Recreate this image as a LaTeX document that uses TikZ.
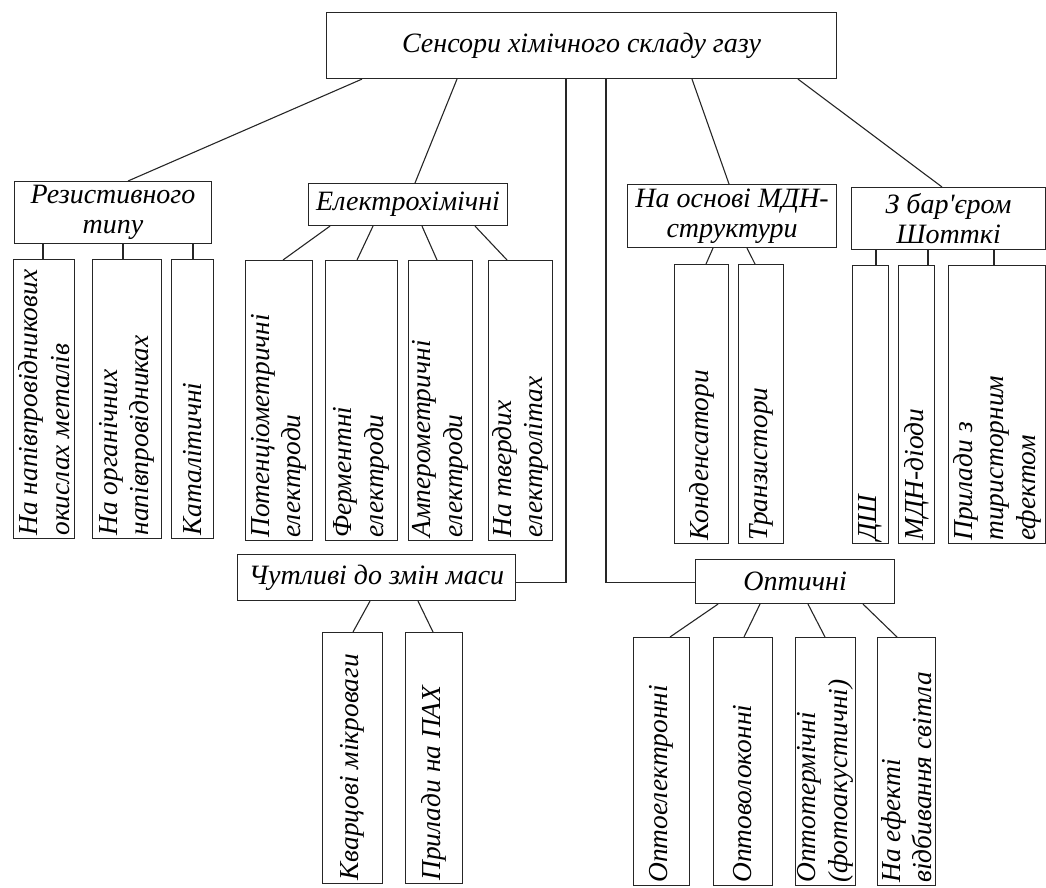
\documentclass[tikz,border=0pt]{standalone}
\usepackage{fontspec}
\setmainfont{Liberation Serif}
\usetikzlibrary{calc}
\newcommand{\bx}[5]{\node[box, minimum width={(#4-#2)*1pt}, minimum height={(#5-#3)*1pt}] (#1) at (#2,#3) {};}
\newcommand{\vt}[2]{\node[vtext] at ($(#1.south)+(0,-3)$) {#2};}
\begin{document}
\begin{tikzpicture}[x=1pt,y=-1pt, line width=1.1pt, draw=black!85,
  box/.style={draw, inner sep=0pt, anchor=north west},
  vtext/.style={rotate=90, anchor=west, align=left, inner sep=0pt, font=\fontsize{27.4}{31.5}\selectfont\itshape},
  gtext/.style={align=center, inner sep=0pt, font=\fontsize{28}{30}\selectfont\itshape},
  conn/.style={draw=black!85, line width=1.1pt}]
\useasboundingbox (0,0) rectangle (1046,888);
% group boxes
\bx{top}{326}{12}{836}{78}
\bx{res}{14}{181}{211}{243}
\bx{el}{308}{183}{507}{225}
\bx{mdn}{627}{184}{836}{247}
\bx{sch}{851}{187}{1045}{249}
\bx{mass}{237}{554}{515}{600}
\bx{opt}{695}{559}{894}{603}
\node[gtext] at (top.center) {Сенсори хімічного складу газу};
\node[gtext] at (res.center) {Резистивного\\типу};
\node[gtext] at (el.center) {Електрохімічні};
\node[gtext] at (mdn.center) {На основі МДН-\\структури};
\node[gtext] at (sch.center) {З бар\textquotesingle єром\\Шотткі};
\node[gtext] at (mass.center) {Чутливі до змін маси};
\node[gtext] at (opt.center) {Оптичні};
% children boxes
\bx{r1}{13}{259}{74}{538}
\bx{r2}{92}{259}{161}{538}
\bx{r3}{171}{259}{213}{538}
\bx{e1}{245}{260}{312}{540}
\bx{e2}{325}{260}{397}{540}
\bx{e3}{408}{260}{472}{540}
\bx{e4}{488}{260}{552}{540}
\bx{m1}{674}{264}{728}{543}
\bx{m2}{738}{264}{783}{543}
\bx{s1}{852}{265}{888}{543}
\bx{s2}{898}{265}{934}{543}
\bx{s3}{948}{265}{1045}{543}
\bx{k1}{322}{632}{382}{883}
\bx{k2}{405}{632}{462}{883}
\bx{o1}{633}{637}{689}{885}
\bx{o2}{713}{637}{772}{885}
\bx{o3}{795}{637}{855}{885}
\bx{o4}{877}{637}{935}{885}
% children texts
\vt{r1}{На напівпровідникових\\окислах металів}
\vt{r2}{На органічних\\напівпровідниках}
\vt{r3}{Каталітичні}
\vt{e1}{Потенціометричні\\електроди}
\vt{e2}{Ферментні\\електроди}
\vt{e3}{Амперометричні\\електроди}
\vt{e4}{На твердих\\електролітах}
\vt{m1}{Конденсатори}
\vt{m2}{Транзистори}
\vt{s1}{ДШ}
\vt{s2}{МДН-діоди}
\vt{s3}{Прилади з\\тиристорним\\ефектом}
\vt{k1}{Кварцові мікроваги}
\vt{k2}{Прилади на ПАХ}
\vt{o1}{Оптоелектронні}
\vt{o2}{Оптоволоконні}
\vt{o3}{Оптотермічні\\(фотоакустичні)}
\vt{o4}{На ефекті\\відбивання світла}
% connectors from top
\draw[conn] ([xshift=36pt]top.south west) -- ([xshift=114pt]res.north west);
\draw[conn] ([xshift=131pt]top.south west) -- ([xshift=107pt]el.north west);
\draw[conn] ([xshift=240pt]top.south west) |- ([yshift=-5pt]mass.east);
\draw[conn] ([xshift=280pt]top.south west) |- ([yshift=-1pt]opt.west);
\draw[conn] ([xshift=366pt]top.south west) -- ([xshift=102pt]mdn.north west);
\draw[conn] ([xshift=472pt]top.south west) -- ([xshift=91pt]sch.north west);
% resistive
\draw[conn] ([xshift=30pt]r1.north west) -- ([xshift=30pt]r1.north west |- res.south);
\draw[conn] ([xshift=31pt]r2.north west) -- ([xshift=31pt]r2.north west |- res.south);
\draw[conn] ([xshift=22pt]r3.north west) -- ([xshift=22pt]r3.north west |- res.south);
% electrochemical
\draw[conn] ([xshift=22pt]el.south west) -- ([xshift=38pt]e1.north west);
\draw[conn] ([xshift=65pt]el.south west) -- ([xshift=32pt]e2.north west);
\draw[conn] ([xshift=114pt]el.south west) -- ([xshift=29pt]e3.north west);
\draw[conn] ([xshift=167pt]el.south west) -- ([xshift=19pt]e4.north west);
% MDN
\draw[conn] ([xshift=86pt]mdn.south west) -- ([xshift=32pt]m1.north west);
\draw[conn] ([xshift=120pt]mdn.south west) -- ([xshift=17pt]m2.north west);
% Schottky
\draw[conn] ([xshift=24pt]s1.north west) -- ([xshift=24pt]s1.north west |- sch.south);
\draw[conn] ([xshift=30pt]s2.north west) -- ([xshift=30pt]s2.north west |- sch.south);
\draw[conn] ([xshift=46pt]s3.north west) -- ([xshift=46pt]s3.north west |- sch.south);
% mass
\draw[conn] ([xshift=133pt]mass.south west) -- ([xshift=31pt]k1.north west);
\draw[conn] ([xshift=181pt]mass.south west) -- ([xshift=28pt]k2.north west);
% optical
\draw[conn] ([xshift=23pt]opt.south west) -- ([xshift=37pt]o1.north west);
\draw[conn] ([xshift=65pt]opt.south west) -- ([xshift=31pt]o2.north west);
\draw[conn] ([xshift=113pt]opt.south west) -- ([xshift=30pt]o3.north west);
\draw[conn] ([xshift=168pt]opt.south west) -- ([xshift=20pt]o4.north west);
\end{tikzpicture}
\end{document}
